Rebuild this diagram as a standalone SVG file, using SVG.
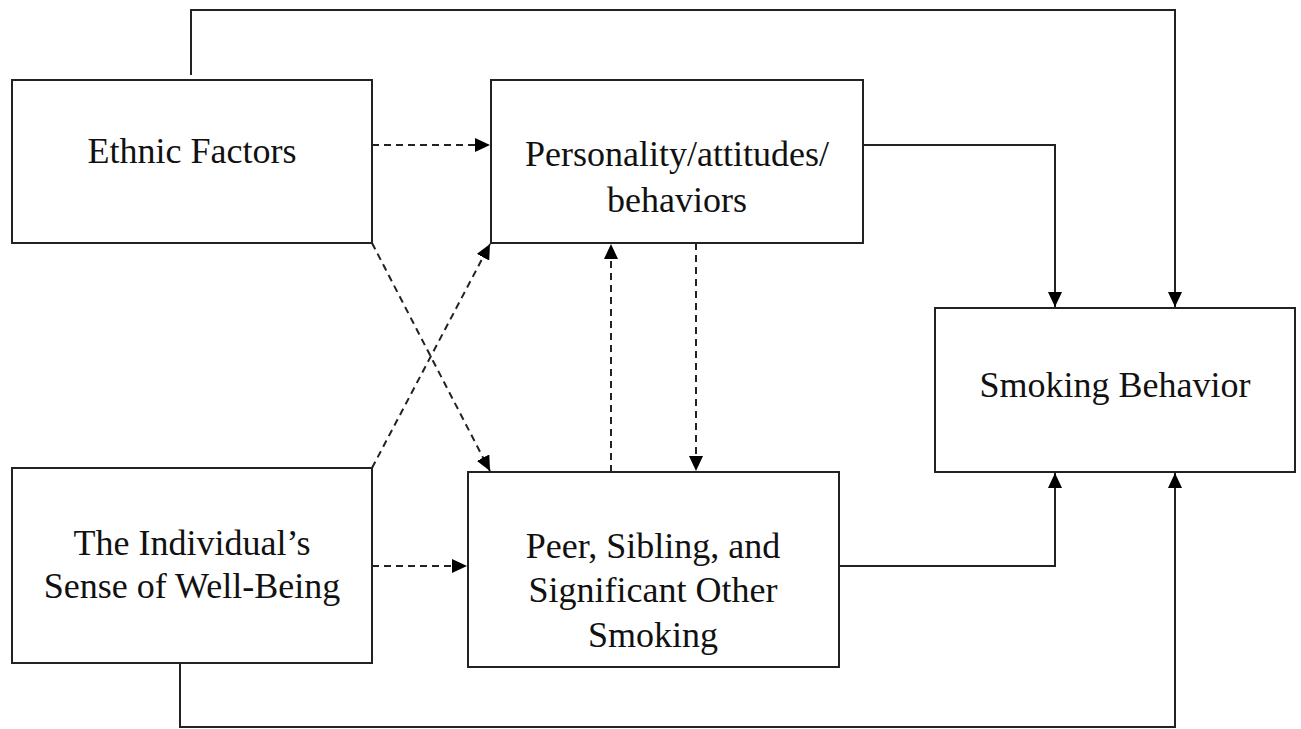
<svg xmlns="http://www.w3.org/2000/svg" width="1301" height="729" viewBox="0 0 1301 729">
<style>
.box{fill:#fff;stroke:#222;stroke-width:2}
.lbl{font-family:"Liberation Serif","Times New Roman",serif;font-size:36px;fill:#111;text-anchor:middle}
.c{fill:none;stroke:#222;stroke-width:2}
.d{stroke-dasharray:7 5}
</style>
<defs>
<marker id="ah" viewBox="0 0 15 14" refX="15" refY="7" markerWidth="15" markerHeight="14" markerUnits="userSpaceOnUse" orient="auto">
<path d="M0,0 L15,7 L0,14 Z" fill="#000"/>
</marker>
</defs>
<rect width="1301" height="729" fill="#fff"/>
<g id="connectors">
<polyline class="c" points="191,75 191,10 1175,10 1175,307" marker-end="url(#ah)"/>
<polyline class="c" points="863,145 1055,145 1055,307" marker-end="url(#ah)"/>
<polyline class="c" points="839,566 1055,566 1055,473" marker-end="url(#ah)"/>
<polyline class="c" points="180,663 180,727 1175,727 1175,473" marker-end="url(#ah)"/>
<line class="c d" x1="372" y1="145" x2="490" y2="145" marker-end="url(#ah)"/>
<line class="c d" x1="372" y1="566" x2="467" y2="566" marker-end="url(#ah)"/>
<line class="c d" x1="372" y1="243" x2="490" y2="471" marker-end="url(#ah)"/>
<line class="c d" x1="372" y1="468" x2="490" y2="244" marker-end="url(#ah)"/>
<line class="c d" x1="611" y1="472" x2="611" y2="244" marker-end="url(#ah)"/>
<line class="c d" x1="696" y1="243" x2="696" y2="471" marker-end="url(#ah)"/>
</g>
<g id="ethnic">
<rect class="box" x="12" y="80" width="360" height="163"/>
<text class="lbl" x="192" y="163">Ethnic Factors</text>
</g>
<g id="personality">
<rect class="box" x="491" y="80" width="372" height="163"/>
<text class="lbl" x="677" y="166">Personality/attitudes/</text>
<text class="lbl" x="677" y="212">behaviors</text>
</g>
<g id="smoking">
<rect class="box" x="935" y="308" width="360" height="164"/>
<text class="lbl" x="1115" y="397">Smoking Behavior</text>
</g>
<g id="individual">
<rect class="box" x="12" y="468" width="360" height="195"/>
<text class="lbl" x="192" y="555">The Individual’s</text>
<text class="lbl" x="192" y="598">Sense of Well-Being</text>
</g>
<g id="peer">
<rect class="box" x="468" y="472" width="371" height="195"/>
<text class="lbl" x="653" y="558">Peer, Sibling, and</text>
<text class="lbl" x="653" y="602">Significant Other</text>
<text class="lbl" x="653" y="647">Smoking</text>
</g>
</svg>
